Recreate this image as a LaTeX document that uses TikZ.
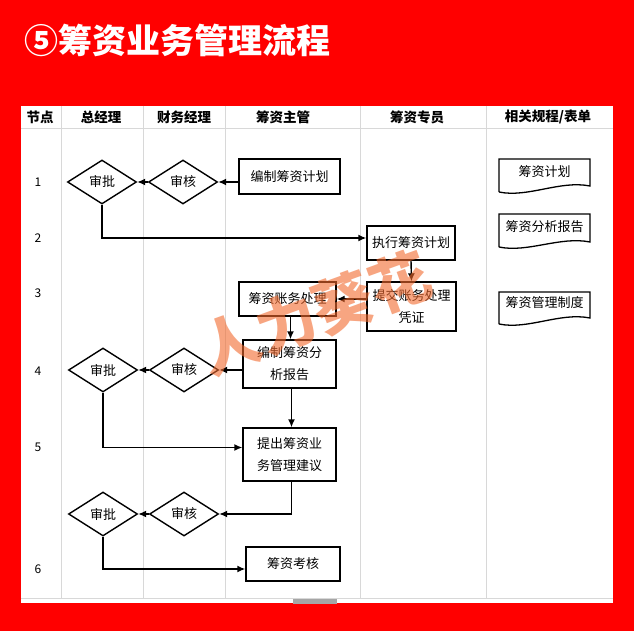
\documentclass[tikz,border=0pt]{standalone}
\usepackage{fontspec}
\setmainfont{Noto Sans CJK SC}
\usetikzlibrary{shapes.geometric,arrows.meta}
\definecolor{bgred}{HTML}{FF0000}
\definecolor{gridgray}{HTML}{D8D8D8}
\definecolor{wmorange}{HTML}{F26A2E}
\tikzset{
  stepbox/.style={draw=black,line width=1.4pt,rectangle,inner sep=2pt,align=center,font=\fontsize{13}{22}\selectfont},
  decision/.style={draw=black,line width=1.4pt,diamond,aspect=1.57,minimum width=69pt,minimum height=44pt,inner sep=0pt,font=\fontsize{13}{15}\selectfont},
  flow/.style={draw=black,line width=1.4pt,-{Latex[length=8pt,width=7pt]}},
  docshape/.style={draw=black,line width=1.3pt},
  doctext/.style={font=\fontsize{13}{15}\selectfont},
  hdr/.style={font=\bfseries\fontsize{13.5}{15}\selectfont},
  rowlab/.style={font=\fontsize{12}{14}\selectfont},
  grid/.style={draw=gridgray,line width=0.8pt}
}
\begin{document}
\begin{tikzpicture}[x=1pt,y=-1pt]
\useasboundingbox (0,0) rectangle (634,631);
\fill[bgred] (0,0) rectangle (634,631);
\node[anchor=west,text=white,font=\bfseries\fontsize{34}{36}\selectfont,inner sep=0pt] (title) at (24,40) {⑤筹资业务管理流程};
% panel
\fill[white] (21,106) rectangle (613,603);
\fill[gray!70] (293,599) rectangle (337,604);
% grid
\foreach \gx in {61,143,225,360,486} \draw[grid] (\gx,106) -- (\gx,598);
\draw[grid] (21,128) -- (613,128);
\draw[grid] (21,598) -- (613,598);
% headers
\node[hdr] (h0) at (40,117) {节点};
\node[hdr] (h1) at (101,117) {总经理};
\node[hdr] (h2) at (184,117) {财务经理};
\node[hdr] (h3) at (283,117) {筹资主管};
\node[hdr] (h4) at (417,117) {筹资专员};
\node[hdr] (h5) at (548,117) {相关规程/表单};
% row labels
\node[rowlab] (n1) at (38,182) {1};
\node[rowlab] (n2) at (38,238) {2};
\node[rowlab] (n3) at (38,293) {3};
\node[rowlab] (n4) at (38,371) {4};
\node[rowlab] (n5) at (38,447) {5};
\node[rowlab] (n6) at (38,569) {6};
% nodes
\node[decision] (d1a) at (102,182) {审批};
\node[decision] (d1b) at (183,182) {审核};
\node[stepbox,minimum width=101pt,minimum height=35pt] (b1) at (289.5,176.5) {编制筹资计划};
\node[stepbox,minimum width=88pt,minimum height=34pt] (b2) at (411,243) {执行筹资计划};
\node[stepbox,minimum width=89pt,minimum height=49pt] (b3) at (411.5,306.5) {提交账务处理\\凭证};
\node[stepbox,minimum width=97pt,minimum height=34pt] (b4) at (287.5,299) {筹资账务处理};
\node[stepbox,minimum width=93pt,minimum height=48pt] (b5) at (289.5,364) {编制筹资分\\析报告};
\node[decision] (d4a) at (103,370) {审批};
\node[decision] (d4b) at (184,370) {审核};
\node[stepbox,minimum width=93pt,minimum height=53pt] (b6) at (289.5,454.5) {提出筹资业\\务管理建议};
\node[decision] (d5a) at (103,514) {审批};
\node[decision] (d5b) at (184,514) {审核};
\node[stepbox,minimum width=94pt,minimum height=34pt] (b7) at (293,564) {筹资考核};
% connectors
\draw[flow] (d1b.east -| b1.west) -- (d1b.east);
\draw[flow] (d1b.west) -- (d1a.east);
\draw[flow] (d1a.south) |- ([yshift=5pt]b2.west);
\draw[flow] (b2.south) -- (b3.north);
\draw[flow] (b4.east -| b3.west) -- (b4.east);
\draw[flow] ([xshift=3pt]b4.south) -- ([xshift=3pt]b4.south |- b5.north);
\draw[flow] (d4b.east -| b5.west) -- (d4b.east);
\draw[flow] (d4b.west) -- (d4a.east);
\draw[flow] (d4a.south) |- ([yshift=7pt]b6.west);
\draw[flow] ([xshift=2pt]b5.south) -- ([xshift=2pt]b5.south |- b6.north);
\draw[flow] ([xshift=2pt]b6.south) |- (d5b.east);
\draw[flow] (d5b.west) -- (d5a.east);
\draw[flow] (d5a.south) |- ([yshift=-5pt]b7.west);
% documents
\draw[docshape] (499,192) -- (499,159) -- (590,159) -- (590,186) .. controls (560,180) and (528,198) .. (499,192);
\node[doctext] (r1) at (544.5,172) {筹资计划};
\draw[docshape] (499,247) -- (499,214) -- (590,214) -- (590,242) .. controls (560,236) and (528,253) .. (499,247);
\node[doctext] (r2) at (544.5,227) {筹资分析报告};
\draw[docshape] (499,324) -- (499,292) -- (590,292) -- (590,318) .. controls (560,312) and (528,330) .. (499,324);
\node[doctext] (r3) at (544.5,303) {筹资管理制度};
% watermark
\node[text=wmorange,opacity=0.6,rotate=20,font=\bfseries\fontsize{60}{62}\selectfont,inner sep=0pt] (wm) at (315,313) {人力葵花};
\end{tikzpicture}
\end{document}
